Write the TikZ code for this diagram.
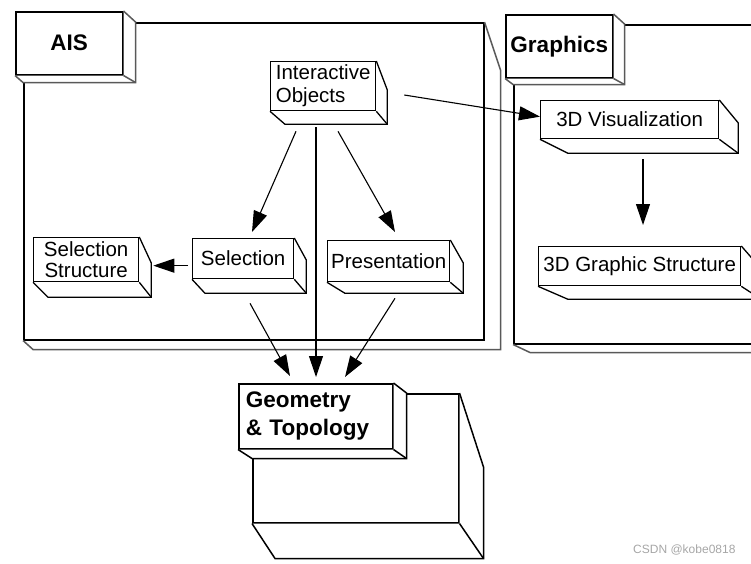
\documentclass[tikz,border=0pt]{standalone}
\usepackage{fontspec}
\setmainfont{Liberation Sans}
\usetikzlibrary{arrows.meta,positioning}

% side and bottom faces of a box: node, left dx, right dx, dy, slant
\newcommand{\boxdepth}[6][depth]{%
  \fill[white] (#2.south west) -- ++(#3,#5) -| ([shift={(#4,#6)}]#2.north east)
    -- (#2.north east) -- (#2.south east) -- cycle;
  \draw[#1] (#2.south west) -- ++(#3,#5) -| ([shift={(#4,#6)}]#2.north east) -- (#2.north east);
  \draw[#1] (#2.south east) -- ++(#4,#5);}
% same, without the inner edge
\newcommand{\pkgdepth}[5]{%
  \draw[pkgline] (#1.south west) -- ++(#2,#4) -| ([shift={(#3,#5)}]#1.north east) -- (#1.north east);}

\begin{document}
\begin{tikzpicture}[x=1pt,y=-1pt,
  font=\fontsize{20.5}{21}\selectfont,
  box/.style={draw,line width=1.3pt,fill=white,anchor=north west,inner sep=3pt},
  pkg/.style={draw,line width=1.5pt,fill=white,anchor=north west,inner sep=0pt},
  tab/.style={draw,line width=1.5pt,fill=white,anchor=north west,inner sep=4pt,
    font=\bfseries\fontsize{22.5}{28}\selectfont},
  depth/.style={line width=1.3pt},
  pkgline/.style={line width=1.5pt,black!65},
  arr/.style={-{Triangle[length=21pt,width=14pt]},line width=1.1pt}]
    \useasboundingbox (0,0) rectangle (751,563);
    \clip (0,0) rectangle (751,563);

    % AIS package
    \node[pkg,minimum width=460,minimum height=317] (aisbody) at (23,22) {};
    \pkgdepth{aisbody}{10}{16}{9}{48}
    \node[tab,minimum width=107,minimum height=63] (ais) at (15,11) {AIS};
    \boxdepth[pkgline]{ais}{8}{12}{7}{11}

    % Graphics package
    \node[pkg,minimum width=262,minimum height=319] (grbody) at (513,24) {};
    \pkgdepth{grbody}{17}{10}{8}{40}
    \node[tab,minimum width=107,minimum height=63] (gr) at (505,14) {Graphics};
    \boxdepth[pkgline]{gr}{8}{11}{6}{10}

    % Geometry & Topology package
    \node[pkg,minimum width=206,minimum height=129] (geobody) at (252,393) {};
    \boxdepth[depth,line width=1.5pt]{geobody}{23}{24}{35}{74}
    \node[tab,minimum width=154,minimum height=65,align=left,text width=140]
        (geo) at (238,383) {Geometry\\\& Topology};
    \boxdepth[depth,line width=1.5pt]{geo}{14}{13}{9}{10}

    % classes
    \node[box,minimum width=105,minimum height=49,align=left] (io) at (270,61) {Interactive\\[2pt]Objects};
    \boxdepth{io}{15}{11}{13}{29}
    \node[box,minimum width=178,minimum height=38] (vis) at (540,100) {3D Visualization};
    \boxdepth{vis}{28}{19}{14}{23}
    \node[box,minimum width=105,minimum height=44,align=center] (selstr) at (33,237) {Selection\\Structure};
    \boxdepth{selstr}{15}{12}{15}{26}
    \node[box,minimum width=101,minimum height=40] (sel) at (192,238) {Selection};
    \boxdepth{sel}{13}{12}{14}{22}
    \node[box,minimum width=122,minimum height=41] (pres) at (327,240) {Presentation};
    \boxdepth{pres}{18}{13}{11}{23}
    \node[box,minimum width=202,minimum height=39] (gstr) at (538,246) {3D Graphic Structure};
    \boxdepth{gstr}{30}{20}{13}{23}

    % connectors
    \draw[arr] ([shift={(26,20)}]io.south west) -- ([shift={(60,-6)}]sel.north west);
    \draw[arr] ([shift={(68,20)}]io.south west) -- ([shift={(68,-8)}]pres.north west);
    \draw[arr] ([shift={(46,16)}]io.south west) -- ([shift={(78,-6)}]geo.north west);
    \draw[arr] ([shift={(28,34)}]io.north east) -- ([shift={(0,-3)}]vis.west);
    \draw[arr] ([shift={(103,20)}]vis.south west) -- ([shift={(105,-21)}]gstr.north west);
    \draw[arr] ([shift={(-4,7)}]sel.west) -- ([shift={(14,6)}]selstr.east);
    \draw[arr] ([shift={(58,24)}]sel.south west) -- ([shift={(52,-7)}]geo.north west);
    \draw[arr] ([shift={(68,16)}]pres.south west) -- ([shift={(107,-6)}]geo.north west);

    \node[anchor=east,text=black!35,font=\fontsize{12}{12}\selectfont] (mark) at (739,550) {CSDN @kobe0818};
\end{tikzpicture}
\end{document}
